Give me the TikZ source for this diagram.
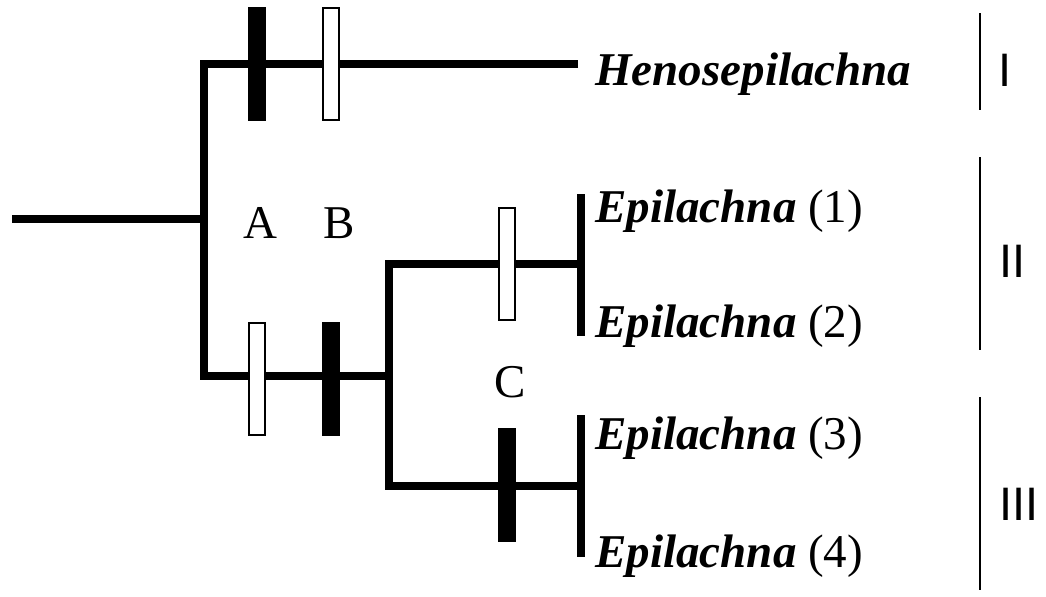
\documentclass[tikz,border=0pt]{standalone}
\usepackage{fontspec}
\setmainfont{Liberation Serif}
\newfontfamily\grpfont{Liberation Sans}

\begin{document}
\begin{tikzpicture}[x=0.5pt,y=-0.5pt,
                       branch/.style={line width=4pt,line join=miter},
                       black bar/.style={rectangle,fill=black,inner sep=0pt,
                                         minimum width=9pt,minimum height=57pt},
                       white bar/.style={rectangle,fill=white,draw=black,line width=0.8pt,
                                         inner sep=0pt,minimum width=8.2pt,minimum height=56.2pt},
                       taxon/.style={anchor=base west,inner sep=0pt,
                                     font=\fontsize{23.5}{28}\selectfont},
                       char/.style={anchor=base,inner sep=0pt,
                                    font=\fontsize{23.5}{28}\selectfont},
                       group/.style={line width=1.1pt},
                       group label/.style={anchor=base,inner sep=0pt,
                                           font=\grpfont\fontsize{23.5}{28}\selectfont}
                      ]
   \useasboundingbox (0,0) rectangle (1046,596);

   % tree junctions
   \coordinate (root) at (12,219);
   \coordinate (n1) at (204,219);
   \coordinate (n2) at (389,376);
   \coordinate (n3) at (581,264);
   \coordinate (n4) at (581,486);
   \coordinate (tip) at (578,64);
   \coordinate (n3a) at (581,194);
   \coordinate (n3b) at (581,336);
   \coordinate (n4a) at (581,415);
   \coordinate (n4b) at (581,557);

   \draw[branch] (root) -- (n1);
   \draw[branch] (tip) -| (n1) |- (n2);
   \draw[branch] (n3) -| (n2) |- (n4);
   \draw[branch] (n3a) -- (n3b);
   \draw[branch] (n4a) -- (n4b);

   % character states
   \node[black bar] (a1) at (257,64) {};
   \node[white bar] (b1) at (331,64) {};
   \node[white bar] (a2) at (257,379) {};
   \node[black bar] (b2) at (331,379) {};
   \node[white bar] (c1) at (507,264) {};
   \node[black bar] (c2) at (507,485) {};

   \node[char] (A) at (260,238) {A};
   \node[char] (B) at (339,238) {B};
   \node[char] (C) at (510,397) {C};

   % taxa
   \node[taxon] (hen) at (595,85) {\textbf{\textit{Henosepilachna}}};
   \node[taxon] (ep1) at (595,222) {\textbf{\textit{Epilachna}} (1)};
   \node[taxon] (ep2) at (595,337) {\textbf{\textit{Epilachna}} (2)};
   \node[taxon] (ep3) at (595,449) {\textbf{\textit{Epilachna}} (3)};
   \node[taxon] (ep4) at (595,567) {\textbf{\textit{Epilachna}} (4)};

   % groups
   \coordinate (g1a) at (980,13);
   \coordinate (g1b) at (980,110);
   \coordinate (g2a) at (980,157);
   \coordinate (g2b) at (980,350);
   \coordinate (g3a) at (980,397);
   \coordinate (g3b) at (980,590);
   \draw[group] (g1a) -- (g1b);
   \draw[group] (g2a) -- (g2b);
   \draw[group] (g3a) -- (g3b);
   \node[group label] (I) at (1005.5,86) {I};
   \node[group label] (II) at (1012.5,277) {II};
   \node[group label] (III) at (1019,520) {III};
  \end{tikzpicture}
\end{document}
